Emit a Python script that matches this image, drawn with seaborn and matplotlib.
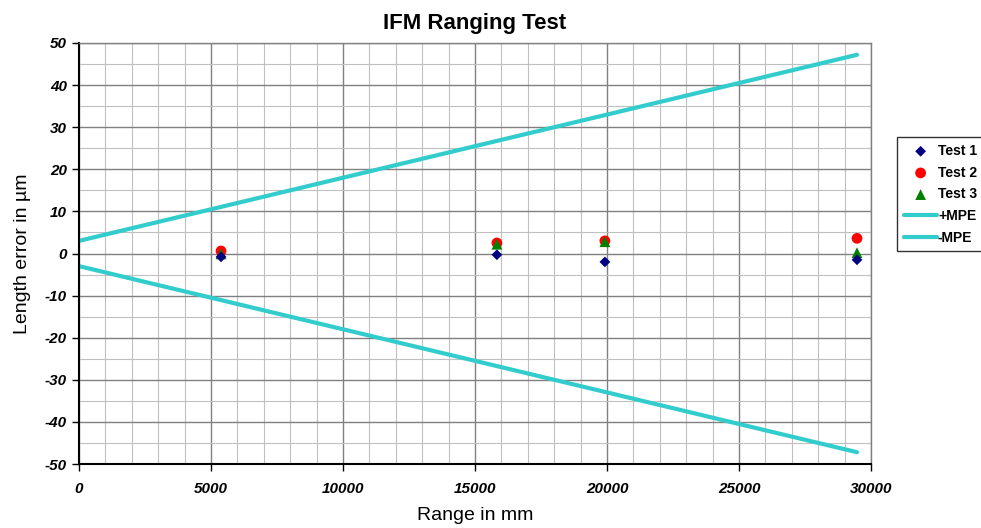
import pandas as pd
import seaborn as sns
import matplotlib.pyplot as plt
from matplotlib.ticker import MultipleLocator

# data
ranges = [5380, 15830, 19920, 29470]
test1 = [-0.8, -0.3, -2.0, -1.5]
test2 = [0.6, 2.5, 3.0, 3.6]
test3 = [-0.1, 2.2, 2.8, 0.2]
mpe_x = [0, 29470]
mpe_plus = [3, 47.2]
mpe_minus = [-3, -47.2]

sns.set_theme(style="white")
plt.rcParams['font.family'] = ['Liberation Sans', 'DejaVu Sans']
plt.rcParams['axes.unicode_minus'] = False
plt.rcParams['text.color'] = 'black'
plt.rcParams['axes.labelcolor'] = 'black'
plt.rcParams['xtick.color'] = 'black'
plt.rcParams['ytick.color'] = 'black'

fig = plt.figure(figsize=(9.81, 5.28), dpi=100)
ax = fig.add_axes([79 / 981, 64 / 528, 792 / 981, 421 / 528])

ax.xaxis.set_major_locator(MultipleLocator(5000))
ax.xaxis.set_minor_locator(MultipleLocator(1000))
ax.yaxis.set_major_locator(MultipleLocator(10))
ax.yaxis.set_minor_locator(MultipleLocator(5))
ax.grid(which='major', color='#808080', lw=1.0)
ax.grid(which='minor', color='#c0c0c0', lw=0.8)
ax.set_axisbelow(True)

df_pts = pd.DataFrame({'x': ranges, 't1': test1, 't2': test2, 't3': test3})
sns.scatterplot(data=df_pts, x='x', y='t2', color='#ff0000', marker='o', s=60,
                edgecolor='none', label='Test 2', ax=ax, zorder=3)
sns.scatterplot(data=df_pts, x='x', y='t3', color='#008000', marker='^', s=60,
                edgecolor='none', label='Test 3', ax=ax, zorder=4)
sns.scatterplot(data=df_pts, x='x', y='t1', color='#000080', marker='D', s=30,
                edgecolor='none', label='Test 1', ax=ax, zorder=5)

df_mpe = pd.DataFrame({'x': mpe_x, 'plus': mpe_plus, 'minus': mpe_minus})
sns.lineplot(data=df_mpe, x='x', y='plus', color='#33cccc', lw=3, label='+MPE', ax=ax)
sns.lineplot(data=df_mpe, x='x', y='minus', color='#33cccc', lw=3, label='-MPE', ax=ax)

ax.set_xlim(0, 30000)
ax.set_ylim(-50, 50)
ax.tick_params(which='major', direction='out', length=5, color='black', width=1,
               bottom=True, left=True)
ax.tick_params(which='minor', length=0)
for lab in ax.get_xticklabels() + ax.get_yticklabels():
    lab.set_fontweight('bold')
    lab.set_fontstyle('italic')
    lab.set_fontsize(11)
ax.tick_params(axis='x', pad=8)

for s in ['left', 'bottom']:
    ax.spines[s].set_color('black')
    ax.spines[s].set_linewidth(1.5)
for s in ['top', 'right']:
    ax.spines[s].set_color('#808080')
    ax.spines[s].set_linewidth(1.0)

ax.set_xlabel('Range in mm', fontsize=14, labelpad=8)
ax.set_ylabel('Length error in µm', fontsize=14, labelpad=10)
ax.set_title('IFM Ranging Test', fontsize=16, fontweight='bold', pad=10)

handles, labels = ax.get_legend_handles_labels()
order = [labels.index(n) for n in ['Test 1', 'Test 2', 'Test 3', '+MPE', '-MPE']]
leg = ax.legend([handles[i] for i in order], [labels[i] for i in order],
                loc='upper left', bbox_to_anchor=(897 / 981, 391 / 528),
                bbox_transform=fig.transFigure, frameon=True, fancybox=False,
                edgecolor='black', prop={'weight': 'bold', 'size': 10},
                handlelength=2.4, handletextpad=0.05, labelspacing=0.55,
                borderpad=0.5, borderaxespad=0)
leg.get_frame().set_linewidth(1.0)

fig.savefig('out.png', dpi=100)
